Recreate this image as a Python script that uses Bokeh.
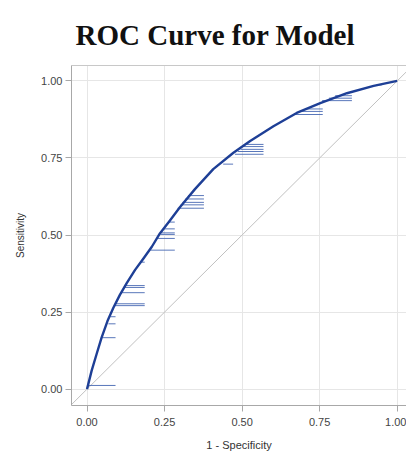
from bokeh.plotting import figure
from bokeh.models import ColumnDataSource, FixedTicker, PrintfTickFormatter, LinearAxis, Range1d
from bokeh.embed import file_html
from bokeh.resources import INLINE

title_text = "ROC Curve for Model"

# ROC curve (1 - specificity, sensitivity)
fpr = [0.0, 0.015, 0.031, 0.047, 0.066, 0.085, 0.106, 0.128, 0.155, 0.182, 0.209, 0.235,
       0.268, 0.300, 0.348, 0.407, 0.472, 0.526, 0.601, 0.676, 0.752, 0.838, 0.924, 1.0]
tpr = [0.0, 0.060, 0.114, 0.167, 0.221, 0.264, 0.306, 0.344, 0.387, 0.424, 0.462, 0.505,
       0.548, 0.591, 0.649, 0.714, 0.767, 0.805, 0.853, 0.896, 0.928, 0.960, 0.984, 1.0]

# tied-score horizontal runs
tie_y = [0.012, 0.167, 0.212, 0.235, 0.271, 0.277, 0.313, 0.330, 0.336, 0.412,
         0.451, 0.489, 0.502, 0.507, 0.520, 0.542, 0.587, 0.598, 0.606, 0.617, 0.628,
         0.730, 0.762, 0.771, 0.778, 0.787, 0.794, 0.891, 0.901, 0.909,
         0.936, 0.944, 0.952, 0.987]
tie_x0 = [0.002, 0.049, 0.069, 0.076, 0.088, 0.091, 0.109, 0.117, 0.120, 0.176,
          0.205, 0.228, 0.237, 0.240, 0.248, 0.262, 0.292, 0.302, 0.308, 0.317, 0.326,
          0.439, 0.477, 0.486, 0.495, 0.505, 0.515, 0.666, 0.690, 0.709,
          0.758, 0.780, 0.800, 0.934]
tie_x1 = [0.092, 0.092, 0.092, 0.092, 0.186, 0.186, 0.186, 0.186, 0.186, 0.186,
          0.283, 0.283, 0.283, 0.283, 0.283, 0.283, 0.377, 0.377, 0.377, 0.377, 0.377,
          0.471, 0.569, 0.569, 0.569, 0.569, 0.569, 0.760, 0.760, 0.760,
          0.854, 0.854, 0.854, 0.950]

ref_line = [-0.1, 1.1]
ticks = [0.0, 0.25, 0.5, 0.75, 1.0]

p = figure(width=406, height=453, output_backend="svg", toolbar_location=None,
           x_range=Range1d(-0.05, 1.03), y_range=Range1d(-0.053, 1.05),
           min_border_left=71, min_border_right=0, min_border_top=65, min_border_bottom=44,
           x_axis_label="1 - Specificity", y_axis_label="Sensitivity")
p.outline_line_color = None
p.background_fill_color = "white"
p.border_fill_color = "white"

p.title.text = title_text
p.title.text_font = "Liberation Serif"
p.title.text_font_style = "bold"
p.title.text_font_size = "29px"
p.title.text_color = "#111111"
p.title.align = "left"
p.title.offset = 4
p.title.standoff = 30

p.line(ref_line, ref_line, line_color="#c0c0c0", line_width=1)

src = ColumnDataSource(dict(x0=tie_x0, x1=tie_x1, y=tie_y))
p.segment(x0="x0", y0="y", x1="x1", y1="y", source=src, line_color="#3c5fae", line_width=1, line_alpha=0.85)
p.line(fpr, tpr, line_color="#1e3f96", line_width=2.4, line_join="round")

for ax in (p.xaxis[0], p.yaxis[0]):
    ax.ticker = FixedTicker(ticks=ticks)
    ax.formatter = PrintfTickFormatter(format="%.2f")
    ax.axis_line_color = "#a8a8a8"
    ax.major_tick_line_color = "#a8a8a8"
    ax.major_tick_out = 6
    ax.major_tick_in = 0
    ax.minor_tick_line_color = None
    ax.major_label_text_font = "Liberation Sans"
    ax.major_label_text_font_size = "11px"
    ax.major_label_text_color = "#444444"
    ax.axis_label_text_font = "Liberation Sans"
    ax.axis_label_text_font_style = "normal"
    ax.axis_label_text_color = "#333333"

p.xaxis[0].axis_label_text_font_size = "11px"
p.yaxis[0].axis_label_text_font_size = "10px"
p.xaxis[0].major_label_standoff = 6
p.yaxis[0].major_label_standoff = 3
p.xaxis[0].axis_label_standoff = 10
p.yaxis[0].axis_label_standoff = 12

top = LinearAxis(ticker=FixedTicker(ticks=[]), axis_line_color="#c8c8c8",
                 major_tick_line_color=None, minor_tick_line_color=None,
                 major_tick_out=0, major_tick_in=0, major_label_standoff=0,
                 axis_label_standoff=0, major_label_text_font_size="0px")
p.add_layout(top, "above")

p.xgrid.ticker = FixedTicker(ticks=ticks)
p.ygrid.ticker = FixedTicker(ticks=ticks)
p.xgrid.grid_line_color = "#e6e6e6"
p.ygrid.grid_line_color = "#e6e6e6"

open("out.html", "w").write(file_html(p, INLINE))
